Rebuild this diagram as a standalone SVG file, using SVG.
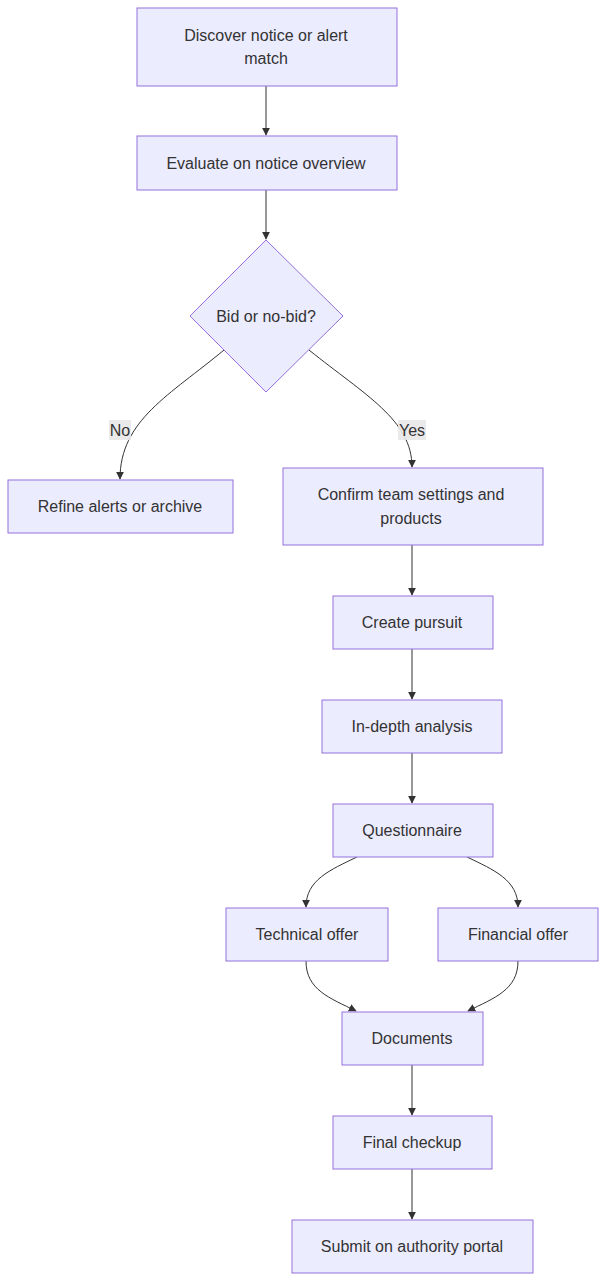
<svg xmlns="http://www.w3.org/2000/svg" width="606" height="1282" viewBox="0 0 606 1282">
<style>
.n{fill:#ECECFF;stroke:#9370DB;stroke-width:1}
.t{font-family:"Liberation Sans",Arial,sans-serif;font-size:16px;fill:#333;text-anchor:middle;dominant-baseline:central}
.e{fill:none;stroke:#333;stroke-width:1}
.lb{fill:#e8e8e8;opacity:0.9}
</style>
<defs><marker id="ar" viewBox="0 0 10 10" refX="9" refY="5" markerWidth="8" markerHeight="8" orient="auto"><path d="M0,0L10,5L0,10z" fill="#333"/></marker></defs>
<rect width="606" height="1282" fill="#fff"/>
<g id="edges">
<path class="e" d="M266,86V135" marker-end="url(#ar)"/>
<path class="e" d="M266,190V239" marker-end="url(#ar)"/>
<path class="e" d="M224,350C170,395 120,420 120,479" marker-end="url(#ar)"/>
<path class="e" d="M309,350C365,395 412,420 412,467" marker-end="url(#ar)"/>
<path class="e" d="M412,545V595" marker-end="url(#ar)"/>
<path class="e" d="M412,649V699" marker-end="url(#ar)"/>
<path class="e" d="M412,753V803" marker-end="url(#ar)"/>
<path class="e" d="M357,857C330,870 306,880 306,907" marker-end="url(#ar)"/>
<path class="e" d="M467,857C494,870 518,880 518,907" marker-end="url(#ar)"/>
<path class="e" d="M306,961C306,990 330,998 356,1011" marker-end="url(#ar)"/>
<path class="e" d="M518,961C518,990 494,998 468,1011" marker-end="url(#ar)"/>
<path class="e" d="M412,1065V1115" marker-end="url(#ar)"/>
<path class="e" d="M412,1169V1219" marker-end="url(#ar)"/>
<rect class="lb" x="109" y="420" width="22" height="20"/><text class="t" x="120" y="430">No</text>
<rect class="lb" x="398" y="420" width="28" height="20"/><text class="t" x="412" y="430">Yes</text>
</g>
<g id="A"><rect class="n" x="137" y="8" width="260" height="78"/><text class="t" x="266" y="35">Discover notice or alert</text><text class="t" x="266" y="58">match</text></g>
<g id="B"><rect class="n" x="137" y="136" width="260" height="54"/><text class="t" x="266" y="163">Evaluate on notice overview</text></g>
<g id="C"><polygon class="n" points="266,240 343,316 266,392 190,316"/><text class="t" x="266" y="316">Bid or no-bid?</text></g>
<g id="D"><rect class="n" x="8" y="480" width="225" height="53"/><text class="t" x="120" y="506">Refine alerts or archive</text></g>
<g id="E"><rect class="n" x="283" y="468" width="260" height="77"/><text class="t" x="411" y="494">Confirm team settings and</text><text class="t" x="411" y="518">products</text></g>
<g id="F"><rect class="n" x="333" y="596" width="160" height="53"/><text class="t" x="412" y="622">Create pursuit</text></g>
<g id="G"><rect class="n" x="322" y="700" width="180" height="53"/><text class="t" x="412" y="726">In-depth analysis</text></g>
<g id="H"><rect class="n" x="333" y="804" width="160" height="53"/><text class="t" x="412" y="830">Questionnaire</text></g>
<g id="I"><rect class="n" x="226" y="908" width="162" height="53"/><text class="t" x="307" y="934">Technical offer</text></g>
<g id="J"><rect class="n" x="438" y="908" width="160" height="53"/><text class="t" x="518" y="934">Financial offer</text></g>
<g id="K"><rect class="n" x="342" y="1012" width="141" height="53"/><text class="t" x="412" y="1038">Documents</text></g>
<g id="L"><rect class="n" x="333" y="1116" width="159" height="53"/><text class="t" x="412" y="1142">Final checkup</text></g>
<g id="M"><rect class="n" x="292" y="1220" width="241" height="53"/><text class="t" x="412" y="1246">Submit on authority portal</text></g>
</svg>
